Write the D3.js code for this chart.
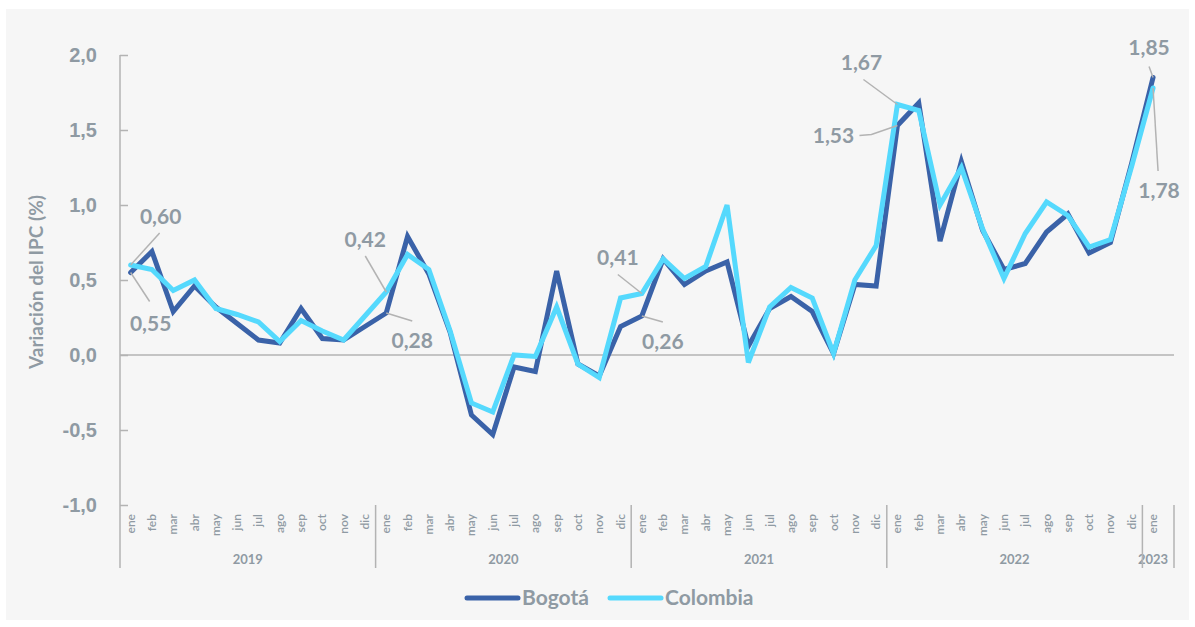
<!DOCTYPE html>
<html>
<head>
<meta charset="utf-8">
<script src="https://cdn.jsdelivr.net/npm/d3@7"></script>
<style>
  body { margin: 0; background: #ffffff; }
  svg { display: block; font-family: Lato, "Open Sans", sans-serif; }
</style>
</head>
<body>
<div id="chart"></div>
<script>
// Months shown on the axis (ene 2019 .. ene 2023)
var monthNames = ["ene", "feb", "mar", "abr", "may", "jun", "jul", "ago", "sep", "oct", "nov", "dic"];
var years = ["2019", "2020", "2021", "2022", "2023"];
var monthsPerYear = [12, 12, 12, 12, 1];

// Monthly CPI change (%)
var bogota = [
    0.55, 0.69, 0.29, 0.46, 0.32, 0.21, 0.10, 0.08, 0.31, 0.11, 0.10, 0.19,
    0.28, 0.79, 0.54, 0.15, -0.40, -0.53, -0.08, -0.11, 0.56, -0.06, -0.14, 0.19,
    0.26, 0.64, 0.47, 0.56, 0.62, 0.06, 0.31, 0.39, 0.29, 0.01, 0.47, 0.46,
    1.53, 1.68, 0.76, 1.29, 0.83, 0.57, 0.61, 0.82, 0.94, 0.68, 0.75, 1.28,
    1.85
];
var colombia = [
    0.60, 0.57, 0.43, 0.50, 0.31, 0.27, 0.22, 0.09, 0.23, 0.16, 0.10, 0.26,
    0.42, 0.67, 0.57, 0.16, -0.32, -0.38, 0.00, -0.01, 0.32, -0.06, -0.15, 0.38,
    0.41, 0.64, 0.51, 0.59, 1.00, -0.05, 0.32, 0.45, 0.38, 0.01, 0.50, 0.73,
    1.67, 1.63, 1.00, 1.25, 0.84, 0.51, 0.81, 1.02, 0.93, 0.72, 0.77, 1.26,
    1.78
];
var yTicks = [-1.0, -0.5, 0.0, 0.5, 1.0, 1.5, 2.0];

// Labelled points: series, month index, text offset, leader line (relative to point)
var labels = [
    { s: "col", i: 0,  tx: 30,  ty: -48, line: [[0, 0], [29, -32]] },
    { s: "bog", i: 0,  tx: 20,  ty: 51,  line: [[0, 0], [19, 29]] },
    { s: "col", i: 12, tx: -21, ty: -52, line: [[0, 0], [-21, -36]] },
    { s: "bog", i: 12, tx: 26,  ty: 28,  line: [[0, 0], [26, 8]] },
    { s: "col", i: 24, tx: -24, ty: -36, line: [[0, 0], [-24, -19]] },
    { s: "bog", i: 24, tx: 21,  ty: 26,  line: [[0, 0], [21, 6]] },
    { s: "col", i: 36, tx: -36, ty: -42, line: [[0, 0], [-34, -25]] },
    { s: "bog", i: 36, tx: -64, ty: 10,  line: [[0, 0], [-26, 9], [-38, 10]] },
    { s: "bog", i: 48, tx: -4,  ty: -30, line: [[0, 0], [-4, -11]] },
    { s: "col", i: 48, tx: 6,   ty: 103, line: [[0, 0], [5, 83]] }
];

var W = 1195, H = 627;
var textGray = "#8f9aa3";
var lineGray = "#b3b3b3";
var colors = { bog: "#3a62a8", col: "#55d9fd" };

// build category list
var cats = [];
years.forEach(function(yr, k) {
    for (var m = 0; m < monthsPerYear[k]; m++) cats.push(yr + "-" + m);
});

var svg = d3.select("#chart").append("svg")
    .attr("width", W)
    .attr("height", H);

svg.append("rect")
    .attr("x", 6).attr("y", 9)
    .attr("width", 1183).attr("height", 611)
    .attr("fill", "#f6f6f6");

var x = d3.scaleBand()
    .domain(cats)
    .range([120, 120 + 21.3 * cats.length])
    .paddingInner(0).paddingOuter(0);

var y = d3.scaleLinear()
    .domain([-1, 2])
    .range([505, 55]);

var xEnd = 1174;
// comma decimals, plain hyphen for negatives
var fmt = function(v) { return d3.format(".1f")(v).replace(".", ",").replace("\u2212", "-"); };
var fmt2 = function(v) { return d3.format(".2f")(v).replace(".", ",").replace("\u2212", "-"); };

// Y axis
var yAxis = svg.append("g")
    .attr("transform", "translate(120,0)")
    .call(d3.axisRight(y).tickValues(yTicks).tickSize(8).tickFormat(fmt));
yAxis.select(".domain").remove();
yAxis.selectAll(".tick line").attr("stroke", lineGray).attr("stroke-width", 1.5);
yAxis.selectAll(".tick text")
    .attr("x", -23)
    .attr("text-anchor", "end")
    .attr("fill", textGray)
    .style("font-size", "20px")
    .style("font-weight", "bold");

svg.append("line")
    .attr("x1", 120).attr("x2", 120)
    .attr("y1", y(2)).attr("y2", 568)
    .attr("stroke", lineGray).attr("stroke-width", 1.5);

// zero line
svg.append("line")
    .attr("x1", 120).attr("x2", xEnd)
    .attr("y1", y(0)).attr("y2", y(0))
    .attr("stroke", lineGray).attr("stroke-width", 1.5);

// y title
svg.append("text")
    .attr("transform", "translate(43," + ((y(2) + y(-1)) / 2 + 2) + ") rotate(-90)")
    .attr("text-anchor", "middle")
    .attr("fill", textGray)
    .style("font-size", "19px")
    .style("font-weight", "bold")
    .text("Variación del IPC (%)");

// month labels
svg.append("g").selectAll("text")
    .data(cats)
    .enter()
    .append("text")
    .attr("transform", function(d) {
        return "translate(" + (x(d) + x.bandwidth() / 2 + 4) + ",514) rotate(-90)";
    })
    .attr("text-anchor", "end")
    .attr("fill", textGray)
    .style("font-size", "12px")
    .style("font-weight", "600")
    .text(function(d) { return monthNames[+d.split("-")[1]]; });

// year groups and separators
var start = 0;
years.forEach(function(yr, k) {
    var first = cats[start], last = cats[start + monthsPerYear[k] - 1];
    var x0 = x(first), x1 = x(last) + x.bandwidth();
    svg.append("text")
        .attr("x", (x0 + x1) / 2)
        .attr("y", 564)
        .attr("text-anchor", "middle")
        .attr("fill", textGray)
        .style("font-size", "13px")
        .style("font-weight", "bold")
        .text(yr);
    if (start > 0) {
        svg.append("line")
            .attr("x1", x0).attr("x2", x0)
            .attr("y1", 505).attr("y2", 568)
            .attr("stroke", lineGray).attr("stroke-width", 1.5);
    }
    start += monthsPerYear[k];
});
svg.append("line")
    .attr("x1", xEnd).attr("x2", xEnd)
    .attr("y1", 505).attr("y2", 568)
    .attr("stroke", lineGray).attr("stroke-width", 1.5);

// lines
var cx = function(i) { return x(cats[i]) + x.bandwidth() / 2; };
var line = d3.line()
    .x(function(d, i) { return cx(i); })
    .y(function(d) { return y(d); });

[["bog", bogota], ["col", colombia]].forEach(function(s) {
    svg.append("path")
        .datum(s[1])
        .attr("d", line)
        .attr("fill", "none")
        .attr("stroke", colors[s[0]])
        .attr("stroke-width", 5)
        .attr("stroke-linejoin", "miter")
        .attr("stroke-linecap", "round");
});

// data labels
labels.forEach(function(l) {
    var v = (l.s === "bog" ? bogota : colombia)[l.i];
    var px = cx(l.i), py = y(v);
    svg.append("path")
        .attr("d", d3.line()(l.line.map(function(p) { return [px + p[0], py + p[1]]; })))
        .attr("fill", "none")
        .attr("stroke", lineGray)
        .attr("stroke-width", 1.5);
    svg.append("text")
        .attr("x", px + l.tx)
        .attr("y", py + l.ty)
        .attr("dy", "0.35em")
        .attr("text-anchor", "middle")
        .attr("fill", textGray)
        .style("font-size", "21px")
        .style("font-weight", "bold")
        .text(fmt2(v));
});

// legend
var legend = svg.append("g").attr("transform", "translate(467,598)");
[["bog", "Bogotá", 0], ["col", "Colombia", 143]].forEach(function(d) {
    var g = legend.append("g").attr("transform", "translate(" + d[2] + ",0)");
    g.append("line")
        .attr("x1", 0).attr("x2", 51)
        .attr("stroke", colors[d[0]])
        .attr("stroke-width", 5)
        .attr("stroke-linecap", "round");
    g.append("text")
        .attr("x", 55)
        .attr("dy", "0.35em")
        .attr("fill", textGray)
        .style("font-size", "21px")
        .style("font-weight", "bold")
        .text(d[1]);
});
</script>
</body>
</html>
